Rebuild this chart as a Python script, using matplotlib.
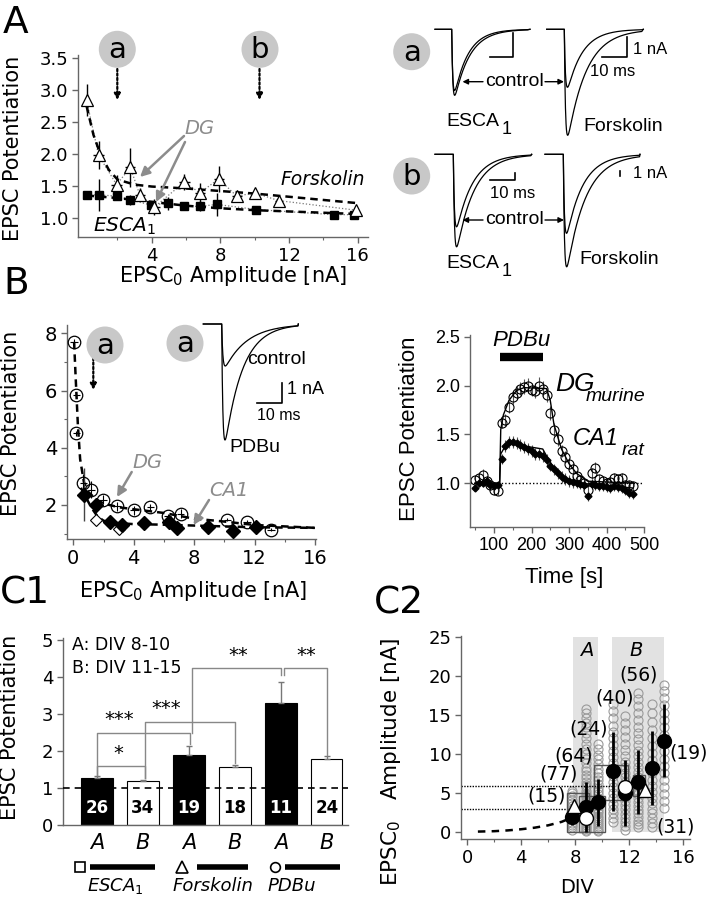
import numpy as np
import matplotlib
matplotlib.use('Agg')
import matplotlib.pyplot as plt
from matplotlib.patches import Circle, Rectangle

plt.rcParams['font.family'] = ['DejaVu Sans']
plt.rcParams['mathtext.fontset'] = 'dejavusans'

# ================= DATA =================
# Panel A (left): EPSC potentiation vs EPSC0 amplitude
fsk_x = [0.2, 0.9, 1.95, 2.75, 3.3, 4.15, 5.9, 6.8, 7.9, 8.95, 10.0, 11.4, 15.9]
fsk_y = [2.84, 1.98, 1.52, 1.79, 1.36, 1.17, 1.56, 1.39, 1.61, 1.34, 1.39, 1.27, 1.12]
fsk_yerr = [0.25, 0.22, 0.15, 0.3, 0.1, 0.12, 0.12, 0.15, 0.2, 0.06, 0.05, 0.03, 0.04]
fsk_xerr = [0.1, 0.3, 0.3, 0.3, 0.3, 0.3, 0.3, 0.3, 0.3, 0.3, 0.2, 0.2, 0.1]
esca_x = [0.25, 0.94, 1.95, 2.75, 3.97, 4.93, 5.9, 6.8, 7.8, 10.1, 14.6, 15.8]
esca_y = [1.36, 1.36, 1.34, 1.28, 1.2, 1.23, 1.18, 1.18, 1.21, 1.13, 1.05, 1.05]
esca_yerr = [0.02, 0.25, 0.06, 0.08, 0.06, 0.1, 0.05, 0.08, 0.18, 0.06, 0.03, 0.03]
fsk_fit_x = [0.2, 0.6, 1.0, 1.5, 2.0, 3.0, 4.0, 6.0, 8.0, 10.0, 12.0, 16.0]
fsk_fit_y = [2.75, 2.3, 2.0, 1.75, 1.6, 1.52, 1.49, 1.46, 1.42, 1.38, 1.33, 1.23]
esca_fit_x = [0.2, 2.0, 4.0, 6.0, 8.0, 10.0, 12.0, 16.0]
esca_fit_y = [1.35, 1.31, 1.25, 1.19, 1.15, 1.12, 1.10, 1.06]

# Panel A (right): example EPSC traces, peak amplitudes [nA] and decay tau [ms]
tr_a_esca_amp = [2.55, 2.75]; tr_a_esca_tau = [6.0, 6.6]
tr_a_fsk_amp = [2.9, 5.3];    tr_a_fsk_tau = [6.0, 7.5]
tr_b_esca_amp = [14.5, 18.5]; tr_b_esca_tau = [6.5, 7.0]
tr_b_fsk_amp = [15.8, 22.5];  tr_b_fsk_tau = [6.5, 7.5]
tr_pdbu_amp = [2.1, 5.8];     tr_pdbu_tau = [9.0, 7.0]

# Panel B (left)
pdbu_x = [0.05, 0.2, 0.2, 0.66, 1.2, 1.97, 2.9, 4.0, 5.1, 6.25, 7.1, 10.2, 11.5, 13.1]
pdbu_y = [7.7, 5.85, 4.5, 2.77, 2.53, 2.19, 1.95, 1.81, 1.93, 1.63, 1.70, 1.49, 1.41, 1.14]
pdbu_yerr = [0.1, 0.1, 0.1, 0.3, 0.3, 0.15, 0.15, 0.15, 0.1, 0.05, 0.15, 0.05, 0.05, 0.05]
dia_x = [0.7, 1.5, 2.4, 3.2, 4.7, 6.35, 6.85, 8.9, 10.6, 12.1]
dia_y = [2.36, 2.0, 1.4, 1.31, 1.37, 1.4, 1.21, 1.22, 1.1, 1.22]
dia_yerr = [0.93, 0.15, 0.05, 0.05, 0.05, 0.05, 0.05, 0.05, 0.05, 0.05]
odia_x = [1.5, 3.0]
odia_y = [1.49, 1.16]
pdbu_fit_x = [0.05, 0.15, 0.3, 0.45, 0.7, 1.0, 1.5, 2.0, 3.0, 4.0, 6.0, 8.0, 10.0, 12.0, 16.0]
pdbu_fit_y = [7.7, 6.5, 4.8, 3.6, 2.8, 2.45, 2.2, 2.05, 1.92, 1.85, 1.72, 1.52, 1.42, 1.3, 1.2]
dia_fit_x = [0.5, 0.8, 1.2, 1.6, 2.0, 2.5, 4.0, 6.0, 8.0, 10.0, 12.0, 16.0]
dia_fit_y = [2.6, 2.3, 1.9, 1.6, 1.45, 1.38, 1.33, 1.31, 1.28, 1.25, 1.22, 1.2]

# Panel B (right): time course
tc_t = [50, 60, 70, 80, 90, 100, 110, 120, 130, 140, 150, 160, 170, 180, 190, 200,
        210, 220, 230, 240, 250, 260, 270, 280, 290, 300, 310, 320, 330, 340, 350,
        360, 370, 380, 390, 400, 410, 420, 430, 440, 450, 460, 470]
dg_y = [1.03, 1.05, 1.08, 1.02, 0.98, 0.93, 0.92, 1.62, 1.65, 1.78, 1.88, 1.93, 1.97,
        1.99, 2.0, 1.96, 1.95, 2.0, 1.97, 1.9, 1.72, 1.55, 1.45, 1.33, 1.27, 1.2, 1.15,
        1.07, 1.03, 1.0, 0.93, 1.1, 1.16, 1.04, 1.02, 1.0, 1.01, 1.05, 1.04, 1.05, 0.98,
        0.98, 0.97]
dg_err = [0.04, 0.05, 0.06, 0.04, 0.05, 0.05, 0.04, 0.05, 0.06, 0.06, 0.07, 0.07, 0.07,
          0.08, 0.08, 0.07, 0.08, 0.09, 0.08, 0.07, 0.07, 0.07, 0.07, 0.06, 0.06, 0.06,
          0.06, 0.05, 0.05, 0.05, 0.06, 0.06, 0.06, 0.05, 0.05, 0.05, 0.05, 0.05, 0.05,
          0.05, 0.05, 0.05, 0.05]
ca1_y = [0.95, 1.0, 1.0, 1.02, 0.98, 0.97, 0.98, 1.25, 1.38, 1.42, 1.42, 1.41, 1.39,
         1.37, 1.35, 1.33, 1.3, 1.3, 1.28, 1.24, 1.18, 1.14, 1.1, 1.06, 1.04, 1.02, 1.01,
         1.0, 0.99, 0.98, 0.87, 0.99, 0.98, 0.97, 0.97, 0.96, 0.95, 0.97, 0.96, 0.95,
         0.93, 0.9, 0.89]
ca1_err = [0.03, 0.04, 0.04, 0.05, 0.04, 0.04, 0.04, 0.05, 0.06, 0.06, 0.06, 0.06, 0.06,
           0.06, 0.06, 0.06, 0.06, 0.06, 0.06, 0.06, 0.06, 0.06, 0.06, 0.06, 0.06, 0.06,
           0.06, 0.05, 0.05, 0.05, 0.05, 0.05, 0.05, 0.05, 0.05, 0.05, 0.05, 0.05, 0.05,
           0.05, 0.05, 0.05, 0.05]
dg_fit_t = [50, 115, 118, 125, 140, 160, 180, 240, 250, 260, 280, 300, 320, 350, 470]
dg_fit_y = [1.0, 1.0, 1.55, 1.7, 1.85, 1.95, 1.98, 1.97, 1.85, 1.6, 1.35, 1.2, 1.1, 1.02, 1.0]
ca1_fit_t = [50, 115, 118, 130, 150, 230, 240, 260, 290, 330, 470]
ca1_fit_y = [1.0, 1.0, 1.3, 1.38, 1.4, 1.35, 1.28, 1.15, 1.05, 1.0, 0.95]
pdbu_on, pdbu_off = 116, 230

# Panel C1
c1_labels = ['A', 'B', 'A', 'B', 'A', 'B']
c1_vals = [1.28, 1.18, 1.90, 1.57, 3.30, 1.78]
c1_err = [0.03, 0.03, 0.22, 0.06, 0.57, 0.08]
c1_n = [26, 34, 19, 18, 11, 24]
c1_groups = ['ESCA$_1$', 'Forskolin', 'PDBu']

# Panel C2
c2_div = [7.75, 8.81, 9.72, 10.83, 11.7, 12.63, 13.66, 14.6]
c2_mean = [1.9, 3.2, 3.8, 7.75, 5.0, 6.35, 8.2, 11.7]
c2_sd = [1.0, 3.2, 3.0, 5.1, 4.2, 4.1, 4.7, 4.7]
c2_n = ['(15)', '(77)', '(64)', '(24)', '(40)', '(56)', '(31)', '(19)']
c2_cells = [
    [0.3, 0.6, 0.9, 1.2, 1.6, 1.9, 2.2, 2.6, 3.0, 3.3, 3.7, 4.1, 4.6, 5.0, 5.3],
    [0.1, 0.3, 0.5, 0.7, 0.9, 1.1, 1.3, 1.5, 1.7, 2.0, 2.2, 2.4, 2.7, 2.9, 3.2, 3.4,
     3.7, 4.0, 4.3, 4.6, 4.9, 5.3, 5.7, 6.0, 6.4, 6.9, 7.3, 7.8, 8.2, 8.8, 9.3, 10.0,
     10.6, 11.3, 12.0, 12.7, 13.4, 14.0, 14.6, 15.2, 15.8],
    [0.1, 0.3, 0.5, 0.8, 1.0, 1.3, 1.5, 1.8, 2.1, 2.4, 2.7, 3.0, 3.3, 3.7, 4.0, 4.4,
     4.8, 5.2, 5.6, 6.1, 6.6, 7.1, 7.6, 8.1, 8.7, 9.3, 9.9, 10.6, 11.3],
    [1.3, 1.8, 2.4, 3.0, 3.6, 4.3, 5.0, 5.7, 6.4, 7.2, 8.0, 8.8, 9.6, 10.4, 11.2, 12.0,
     12.8, 13.6, 14.6, 15.5, 16.4],
    [0.3, 0.8, 1.3, 1.8, 2.3, 2.9, 3.5, 4.0, 4.5, 5.1, 5.8, 6.4, 7.0, 7.6, 8.3, 9.0,
     9.7, 10.5, 11.3, 12.1, 13.0, 13.9, 14.8],
    [0.6, 1.0, 1.4, 1.9, 2.4, 2.8, 3.3, 3.8, 4.3, 4.8, 5.3, 5.9, 6.5, 7.1, 7.7, 8.3,
     9.0, 9.7, 10.4, 11.1, 11.9, 12.7, 13.5, 14.3, 15.2, 16.1, 17.0, 17.8],
    [0.6, 1.2, 1.8, 2.4, 3.0, 3.7, 4.4, 5.1, 5.9, 6.7, 7.5, 8.3, 9.2, 10.1, 11.0, 12.0,
     13.0, 14.1, 15.2, 16.4],
    [3.1, 4.0, 4.9, 5.8, 6.7, 7.6, 8.5, 9.4, 10.4, 11.4, 12.4, 13.4, 14.4, 15.3, 16.2,
     17.1, 18.0, 18.8],
]
c2_open_x = [8.81, 11.7]
c2_open_y = [1.8, 5.7]
c2_tri_x = [7.95, 13.2]
c2_tri_y = [3.3, 5.4]
c2_fit_x = [0.8, 2.0, 3.0, 4.0, 5.0, 6.0, 7.0, 7.7]
c2_fit_y = [0.05, 0.1, 0.2, 0.35, 0.55, 0.85, 1.3, 1.8]
c2_thresh = [5.9, 2.9]

# ================= FIGURE =================
W, H = 709, 899
fig = plt.figure(figsize=(W / 100, H / 100), dpi=100)


def px_axes(l, r, t, b):
    return fig.add_axes([l / W, 1 - b / H, (r - l) / W, (b - t) / H])


def style(ax, fs=13, family=None):
    for s in ['top', 'right']:
        ax.spines[s].set_visible(False)
    for s in ['left', 'bottom']:
        ax.spines[s].set_color('#666666')
        ax.spines[s].set_linewidth(1.0)
    ax.tick_params(which='major', direction='out', length=4, width=1,
                   color='#666666', labelsize=fs, pad=3)
    ax.tick_params(which='minor', direction='out', length=2.5, width=0.8,
                   color='#666666')
    if family:
        for lab in ax.get_xticklabels() + ax.get_yticklabels():
            lab.set_family(family)


ARIAL = 'Liberation Sans'

# ---------- Panel A left ----------
axA = px_axes(78, 368, 55, 237)
axA.set_xlim(-0.3, 16.6)
axA.set_ylim(0.7, 3.55)
axA.plot(fsk_x, fsk_y, ':', color='#777777', lw=0.9, zorder=1)
axA.plot(esca_x, esca_y, ':', color='#777777', lw=0.9, zorder=1)
axA.plot(fsk_fit_x, fsk_fit_y, '--', color='k', lw=1.8, dashes=(3, 2), zorder=2)
axA.plot(esca_fit_x, esca_fit_y, '--', color='k', lw=1.8, dashes=(3, 2), zorder=2)
axA.errorbar(fsk_x, fsk_y, yerr=fsk_yerr, xerr=fsk_xerr, fmt='^', ms=8, mfc='white',
             mec='k', mew=0.9, ecolor='k', elinewidth=1, capsize=0, zorder=4)
axA.errorbar(esca_x, esca_y, yerr=esca_yerr, fmt='s', ms=6, mfc='k', mec='k',
             ecolor='k', elinewidth=1, capsize=0, zorder=3)
axA.set_xticks([4, 8, 12, 16])
axA.set_xticks([2, 6, 10, 14], minor=True)
axA.set_yticks([1.0, 1.5, 2.0, 2.5, 3.0, 3.5])
axA.set_yticklabels(['1.0', '1.5', '2.0', '2.5', '3.0', '3.5'])
style(axA, 13)
axA.set_ylabel('EPSC Potentiation', fontsize=15)
axA.set_xlabel('EPSC$_0$ Amplitude [nA]', fontsize=15)
axA.yaxis.set_label_coords(-0.19, 0.486)
axA.xaxis.set_label_coords(0.533, -0.15)
axA.text(16.4, 1.6, 'Forskolin', style='italic', fontsize=13.5, ha='right', va='center')
axA.text(0.55, 0.86, r'$\mathit{ESCA}_{\mathrm{1}}$', fontsize=14.5, ha='left', va='center')

# ---------- Panel B left ----------
axB = px_axes(67, 316, 325, 539)
axB.set_xlim(-0.42, 16.07)
axB.set_ylim(0.81, 8.29)
axB.plot(pdbu_fit_x, pdbu_fit_y, '--', color='k', lw=1.8, dashes=(3, 2), zorder=2)
axB.plot(dia_fit_x, dia_fit_y, '--', color='k', lw=1.8, dashes=(3, 2), zorder=2)
axB.errorbar(pdbu_x, pdbu_y, yerr=pdbu_yerr, xerr=[0.25] * len(pdbu_x), fmt='o', ms=9,
             mfc='none', mec='k', mew=0.9, ecolor='k', elinewidth=0.8, capsize=0, zorder=4)
axB.errorbar(dia_x, dia_y, yerr=dia_yerr, fmt='D', ms=7, mfc='k', mec='k',
             ecolor='#444444', elinewidth=1, capsize=0, zorder=3)
axB.plot(odia_x, odia_y, 'D', ms=6, mfc='white', mec='k', mew=0.8, zorder=3)
axB.set_xticks([0, 4, 8, 12, 16])
axB.set_xticks([2, 6, 10, 14], minor=True)
axB.set_yticks([2, 4, 6, 8])
axB.set_yticks([1, 3, 5, 7], minor=True)
style(axB, 14)
axB.set_ylabel('EPSC Potentiation', fontsize=15)
axB.set_xlabel('EPSC$_0$ Amplitude [nA]', fontsize=15)
axB.yaxis.set_label_coords(-0.185, 0.54)
axB.xaxis.set_label_coords(0.507, -0.185)

# ---------- Panel B right ----------
axT = px_axes(470, 644, 335, 527)
axT.set_xlim(36, 500)
axT.set_ylim(0.55, 2.52)
axT.axhline(1.0, color='k', lw=1, ls=(0, (1, 1.5)), zorder=1)
axT.plot(dg_fit_t, dg_fit_y, '-', color='k', lw=1.0, zorder=3)
axT.plot(ca1_fit_t, ca1_fit_y, '-', color='k', lw=1.0, zorder=3)
axT.errorbar(tc_t, ca1_y, yerr=ca1_err, fmt='D', ms=3.5, mfc='k', mec='k',
             ecolor='#555555', elinewidth=0.8, capsize=0, zorder=2)
axT.errorbar(tc_t, dg_y, yerr=dg_err, fmt='o', ms=6.5, mfc='none', mec='k', mew=0.8,
             ecolor='#555555', elinewidth=0.8, capsize=0, zorder=2)
axT.plot([pdbu_on, pdbu_off], [2.29, 2.29], '-', color='k', lw=6, solid_capstyle='butt')
axT.text((pdbu_on + pdbu_off) / 2, 2.36, 'PDBu', family=ARIAL, style='italic',
         fontsize=16, ha='center', va='bottom')
axT.text(263, 2.02, 'DG', family=ARIAL, style='italic', fontsize=19, ha='left', va='center')
axT.text(345, 1.89, 'murine', family=ARIAL, style='italic', fontsize=14, ha='left', va='center')
axT.text(311, 1.46, 'CA1', family=ARIAL, style='italic', fontsize=17, ha='left', va='center')
axT.text(440, 1.34, 'rat', family=ARIAL, style='italic', fontsize=14, ha='left', va='center')
axT.set_xticks([100, 200, 300, 400, 500])
axT.set_xticks([50, 150, 250, 350, 450], minor=True)
axT.set_yticks([1.0, 1.5, 2.0, 2.5])
axT.set_yticklabels(['1.0', '1.5', '2.0', '2.5'])
style(axT, 13, ARIAL)
axT.set_ylabel('EPSC Potentiation', fontsize=16, family=ARIAL)
axT.set_xlabel('Time [s]', fontsize=16, family=ARIAL)
axT.yaxis.set_label_coords(-0.285, 0.51)
axT.xaxis.set_label_coords(0.54, -0.21)

# ---------- Panel C1 ----------
axC = px_axes(63, 348, 638, 825)
axC.set_xlim(-0.74, 5.46)
axC.set_ylim(0, 5.05)
xpos = np.arange(len(c1_vals))
cols = ['k', 'white'] * 3
axC.bar(xpos, c1_vals, width=0.68, color=cols, edgecolor='k', linewidth=0.8, zorder=2)
axC.errorbar(xpos, c1_vals, yerr=[[0] * 6, c1_err], fmt='none', ecolor='#777777',
             elinewidth=1, capsize=2, zorder=3)
axC.axhline(1.0, color='k', lw=1.2, ls=(0, (4, 3)), zorder=4)
for i, n in enumerate(c1_n):
    axC.text(xpos[i], 0.45, str(n), ha='center', va='center', fontsize=12,
             fontweight='bold', color='white' if i % 2 == 0 else 'k', zorder=5)
gray = '#888888'
brackets = [
    (0, 1.36, 1.04, 1.26, 1.6, '*', 0.47, 1.92),
    (0, 1.36, 2.02, 2.2, 2.49, '***', 0.49, 2.86),
    (1.04, 1.26, 3.0, 1.68, 2.78, '***', 1.5, 3.15),
    (2.07, 2.49, 4.0, 4.05, 4.25, '**', 3.07, 4.58),
    (4.07, 4.05, 5.0, 1.9, 4.25, '**', 4.56, 4.58),
]
for x1, y1, x2, y2, top, lab, lx, ly in brackets:
    axC.plot([x1, x1, x2, x2], [y1, top, top, y2], '-', color=gray, lw=1, zorder=3)
    axC.text(lx, ly, lab, ha='center', va='center', fontsize=14)
axC.text(-0.55, 4.85, 'A: DIV 8-10', fontsize=12.5, ha='left', va='center')
axC.text(-0.55, 4.25, 'B: DIV 11-15', fontsize=12.5, ha='left', va='center')
axC.set_yticks([0, 1, 2, 3, 4, 5])
axC.set_xticks(xpos)
axC.set_xticklabels(c1_labels, style='italic')
style(axC, 13)
axC.tick_params(axis='x', length=0, labelsize=15, pad=6)
axC.set_ylabel('EPSC Potentiation', fontsize=15)
axC.yaxis.set_label_coords(-0.151, 0.52)
yl = -1.135
axC.plot([-0.37], [yl], 's', ms=7, mfc='white', mec='k', mew=1.2, clip_on=False)
axC.plot([-0.15, 1.26], [yl, yl], '-', color='k', lw=4, clip_on=False, solid_capstyle='butt')
axC.plot([1.85], [yl], '^', ms=8, mfc='white', mec='k', mew=1.2, clip_on=False)
axC.plot([2.17, 3.28], [yl, yl], '-', color='k', lw=4, clip_on=False, solid_capstyle='butt')
axC.plot([3.87], [yl], 'o', ms=7, mfc='white', mec='k', mew=1.2, clip_on=False)
axC.plot([4.09, 5.28], [yl, yl], '-', color='k', lw=4, clip_on=False, solid_capstyle='butt')
for gx, g in zip([0.4, 2.52, 4.24], c1_groups):
    txt = r'$\mathit{ESCA}_{\mathrm{1}}$' if g.startswith('ESCA') else g
    axC.text(gx, -1.66, txt, style='italic', fontsize=13, ha='center', va='center',
             clip_on=False)

# ---------- Panel C2 ----------
axD = px_axes(461, 690, 636, 839)
axD.set_xlim(-0.45, 16.5)
axD.set_ylim(-0.9, 25.1)
axD.add_patch(Rectangle((7.86, 0), 9.7 - 7.86, 25, color='#e2e2e2', lw=0, zorder=0))
axD.add_patch(Rectangle((10.7, 0), 14.6 - 10.7, 25, color='#e2e2e2', lw=0, zorder=0))
for xv, cells in zip(c2_div, c2_cells):
    axD.plot([xv] * len(cells), cells, 'o', ms=6.5, mfc='none', mec='#9a9a9a', mew=0.8, zorder=1)
axD.plot([-0.45, 10.7], [c2_thresh[0]] * 2, color='k', lw=1, ls=(0, (1, 1)), zorder=2)
axD.plot([-0.45, 7.7], [c2_thresh[1]] * 2, color='k', lw=1, ls=(0, (1, 1)), zorder=2)
axD.plot(c2_fit_x, c2_fit_y, '--', color='k', lw=1.8, dashes=(3, 2.5), zorder=2)
for (x0, y0, w, h) in [(7.36, 0.05, 1.7, 4.95), (8.3, 0.05, 1.9, 4.6),
                       (9.4, 4.1, 2.5, 4.5), (12.3, 4.6, 0.9, 2.7)]:
    axD.add_patch(Rectangle((x0, y0), w, h, fill=False, ec='#555555', lw=1, zorder=2))
axD.errorbar(c2_div, c2_mean, yerr=c2_sd, fmt='o', ms=10, mfc='k', mec='k',
             ecolor='k', elinewidth=2, capsize=0, zorder=4)
axD.plot(c2_open_x, c2_open_y, 'o', ms=10, mfc='white', mec='k', mew=1, zorder=5)
axD.plot(c2_tri_x, c2_tri_y, '^', ms=10, mfc='white', mec='k', mew=1, zorder=5)
for (tx, ty), lab in zip([(5.9, 4.55), (6.77, 7.45), (7.92, 9.67), (8.98, 13.2),
                          (10.95, 17.1), (12.67, 20.1), (15.4, 0.7), (16.4, 10.1)], c2_n):
    axD.text(tx, ty, lab, fontsize=13.5, ha='center', va='center', zorder=6)
axD.text(8.86, 23.3, 'A', style='italic', fontsize=14, ha='center', va='center')
axD.text(12.55, 23.3, 'B', style='italic', fontsize=14, ha='center', va='center')
axD.set_xticks([0, 4, 8, 12, 16])
axD.set_xticks([2, 6, 10, 14], minor=True)
axD.set_yticks([0, 5, 10, 15, 20, 25])
style(axD, 13)
axD.set_ylabel('EPSC$_0$   Amplitude [nA]', fontsize=15.5)
axD.set_xlabel('DIV', fontsize=14)
axD.yaxis.set_label_coords(-0.253, 0.38)
axD.xaxis.set_label_coords(0.507, -0.19)

# ---------- overlay (pixel coordinates) ----------
ov = fig.add_axes([0, 0, 1, 1])
ov.set_xlim(0, W)
ov.set_ylim(H, 0)
ov.axis('off')

for lab, (x, y) in [('A', (3, 33)), ('B', (3, 294)), ('C1', (0, 603)), ('C2', (374, 613))]:
    ov.text(x, y, lab, fontsize=27, ha='left', va='baseline')


def badge(x, y, s, r=18.5):
    ov.add_patch(Circle((x, y), r, color='#c8c8c8', lw=0, zorder=5))
    ov.text(x, y + 1, s, fontsize=21, ha='center', va='center', zorder=6)


def darrow(x, y0, y1):
    ov.annotate('', xy=(x, y1), xytext=(x, y0),
                arrowprops=dict(arrowstyle='-|>', color='k', lw=1.6, ls=(0, (1, 1)),
                                mutation_scale=9, shrinkA=0, shrinkB=0))


def garrow(x0, y0, x1, y1):
    ov.annotate('', xy=(x1, y1), xytext=(x0, y0),
                arrowprops=dict(arrowstyle='-|>', color='#8c8c8c', lw=1.8,
                                mutation_scale=14, shrinkA=0, shrinkB=0))


# Panel A left annotations
badge(117.3, 49.3, 'a')
badge(260, 49.3, 'b')
darrow(117.3, 69, 100)
darrow(259.5, 69, 100)
ov.text(200, 128, 'DG', color='#8c8c8c', style='italic', fontsize=14, ha='center', va='center')
garrow(184, 136, 140, 177)
garrow(185, 142, 156, 202)

# Panel B left annotations
badge(105, 345, 'a')
darrow(93.3, 358, 390)
badge(185, 343.3, 'a')
ov.text(148, 462, 'DG', color='#8c8c8c', style='italic', fontsize=14, ha='center', va='center')
garrow(131.7, 472, 117, 497)
ov.text(229, 490, 'CA1', color='#8c8c8c', style='italic', fontsize=14, ha='center', va='center')
garrow(209, 500, 193.5, 525)


def traces(x_start, x_on, base, px_ms, px_na, amps, taus, dur, x_end):
    t = np.linspace(0, dur, 400)
    for a, td in zip(amps, taus):
        s = np.exp(-t / td) - np.exp(-t / 0.45)
        s = s / s.max()
        xs = np.concatenate([[x_start], x_on + t * px_ms, [x_end]])
        ys = np.concatenate([[base], base + a * px_na * s, [base]])
        ov.plot(xs, ys, color='k', lw=0.9, zorder=4)


# Panel A right traces
badge(411.7, 51.7, 'a')
badge(411.7, 176, 'b')
traces(435, 451.7, 29.3, 2.3, 24, tr_a_esca_amp, tr_a_esca_tau, 33, 530)
traces(546.7, 564.3, 29.3, 2.5, 20, tr_a_fsk_amp, tr_a_fsk_tau, 31, 643.3)
traces(435, 453.3, 154.3, 2.5, 5, tr_b_esca_amp, tr_b_esca_tau, 31, 531.7)
traces(545, 563.3, 154.3, 2.5, 5, tr_b_fsk_amp, tr_b_fsk_tau, 30.5, 640)
ov.plot([490, 513.3, 513.3], [57.3, 57.3, 33.3], 'k', lw=1.2)
ov.plot([601.7, 626.7, 626.7], [57.3, 57.3, 37.3], 'k', lw=1.2)
ov.text(633, 49.5, '1 nA', family=ARIAL, fontsize=12, ha='left', va='center')
ov.text(612.7, 72, '10 ms', family=ARIAL, fontsize=12, ha='center', va='center')
ov.plot([490, 515, 515], [180, 180, 173.3], 'k', lw=1.2)
ov.text(512.7, 194, '10 ms', family=ARIAL, fontsize=12, ha='center', va='center')
ov.plot([620, 620], [170.7, 175.7], 'k', lw=1.2)
ov.text(633, 173, '1 nA', family=ARIAL, fontsize=12, ha='left', va='center')
for yc in [81.7, 220]:
    ov.text(514, yc, 'control', family=ARIAL, fontsize=14, ha='center', va='center')
    ov.annotate('', xy=(462.5, yc), xytext=(483, yc),
                arrowprops=dict(arrowstyle='-|>', color='k', lw=1, mutation_scale=8,
                                shrinkA=0, shrinkB=0))
    ov.annotate('', xy=(564, yc), xytext=(545, yc),
                arrowprops=dict(arrowstyle='-|>', color='k', lw=1, mutation_scale=8,
                                shrinkA=0, shrinkB=0))
for yc in [121.7, 264]:
    ov.text(446.7, yc, 'ESCA', family=ARIAL, fontsize=14, ha='left', va='center')
    ov.text(502, yc + 8, '1', family=ARIAL, fontsize=13, ha='left', va='center')
ov.text(583.3, 126.7, 'Forskolin', family=ARIAL, fontsize=14, ha='left', va='center')
ov.text(579.3, 259.3, 'Forskolin', family=ARIAL, fontsize=14, ha='left', va='center')

# Panel B inset trace
traces(203.3, 221.7, 324, 2.5, 20, tr_pdbu_amp, tr_pdbu_tau, 30.5, 298.3)
ov.plot([257, 282, 282], [403, 403, 383], 'k', lw=1.2)
ov.text(287, 390, '1 nA', family=ARIAL, fontsize=13, ha='left', va='center')
ov.text(257, 415, '10 ms', family=ARIAL, fontsize=11.5, ha='left', va='center')
ov.text(246.7, 359.3, 'control', family=ARIAL, fontsize=14, ha='left', va='center')
ov.text(229.3, 447, 'PDBu', family=ARIAL, fontsize=14, ha='left', va='center')

fig.savefig('out.png', dpi=100)
